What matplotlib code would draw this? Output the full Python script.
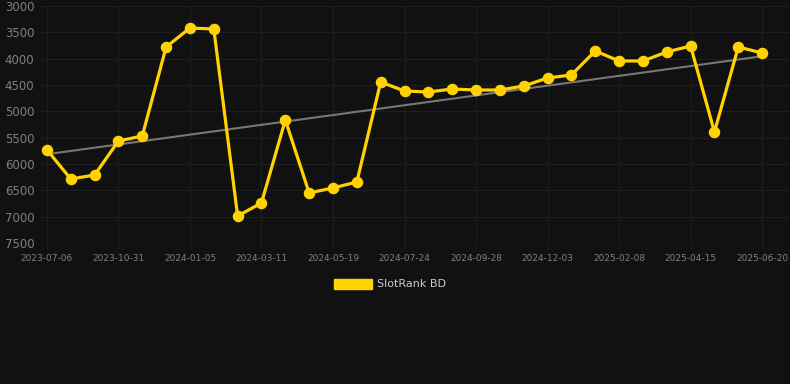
import matplotlib
matplotlib.use("Agg")
import matplotlib.pyplot as plt
import numpy as np
from matplotlib.patches import Patch

tick_labels = ["2023-07-06", "2023-10-31", "2024-01-05", "2024-03-11", "2024-05-19",
               "2024-07-24", "2024-09-28", "2024-12-03", "2025-02-08", "2025-04-15",
               "2025-06-20"]
ranks = [5730, 6285, 6209, 5563, 5468, 3778, 3418, 3437, 6987, 6740,
         5165, 6550, 6455, 6342, 4443, 4614, 4633, 4576, 4595, 4595,
         4519, 4367, 4310, 3854, 4044, 4044, 3873, 3759, 5392, 3778, 3892]
series_name = "SlotRank BD"

bg = "#111111"
fig = plt.figure(figsize=(7.9, 3.84), dpi=100, facecolor=bg)
ax = fig.add_axes([40/790, 1-243/384, 1-40/790, (243-6)/384])
ax.set_facecolor(bg)

x = np.arange(len(ranks))
y = np.array(ranks, dtype=float)

# trend line
k, b = np.polyfit(x, y, 1)
ax.plot([x[0], x[-1]], [k*x[0]+b, k*x[-1]+b], color="#777777", lw=1.5, zorder=2)

ax.plot(x, y, color="#FFD200", lw=2.3, marker="o", markersize=7.3, zorder=3)

ax.set_ylim(7500, 3000)
ax.set_yticks(np.arange(3000, 7501, 500))
ax.set_xlim(-0.29, 31.17)
tick_pos = list(range(0, len(ranks), 3))
ax.set_xticks(tick_pos)
ax.set_xticklabels(tick_labels)

for s in ax.spines.values():
    s.set_visible(False)
ax.grid(True, color="#1e1e1e", lw=0.8)
ax.set_axisbelow(True)
ax.tick_params(axis="y", length=0, labelsize=8.5, labelcolor="#808080", pad=4)
ax.tick_params(axis="x", length=4, color="#1e1e1e", labelsize=6.5, labelcolor="#808080", pad=4)

handle = Patch(facecolor="#FFD200", edgecolor="#FFD200")
fig.legend([handle], [series_name], loc="center", bbox_to_anchor=(390/790, 1-284/384),
           frameon=False, fontsize=8, labelcolor="#cccccc", handlelength=3.4,
           handleheight=1.0, handletextpad=0.5)

fig.savefig("out.png", dpi=100, facecolor=bg)
